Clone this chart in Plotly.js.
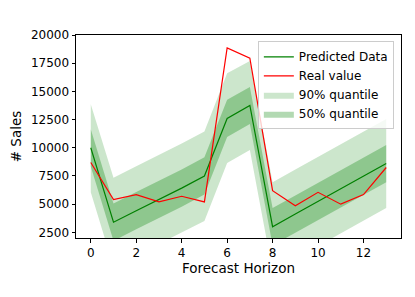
<!DOCTYPE html>
<html>
<head>
<meta charset="utf-8">
<script src="https://cdn.plot.ly/plotly-3.0.1.min.js"></script>
<style>html,body{margin:0;padding:0;background:#fff;}#chart{width:415px;height:297px;}</style>
</head>
<body>
<div id="chart"></div>
<script>
var horizon = [0,1,2,3,4,5,6,7,8,9,10,11,12,13];
var predicted = [10000,3400,4420,5420,6420,7500,12600,13750,3000,4120,5240,6360,7480,8600];
var realValue = [8700,5400,5850,5200,5700,5200,18850,17950,6200,4850,6050,5000,5850,8250];
var q90Lower = [6050,-550,470,1470,2470,3500,8650,9800,-950,170,1290,2410,3530,4650];
var q90Upper = [13850,7350,8370,9370,10370,11450,16600,17700,6950,8070,9190,10310,11430,12550];
var q50Lower = [8350,1750,2770,3770,4770,5850,10950,12100,1350,2470,3590,4710,5830,6950];
var q50Upper = [11650,5050,6070,7070,8070,9150,14250,15400,4650,5770,6890,8010,9130,10250];
var xTicks = [0,2,4,6,8,10,12];
var yTicks = [2500,5000,7500,10000,12500,15000,17500,20000];

var font = 'DejaVu Sans, sans-serif';
var traces = [
  {x: horizon, y: q90Lower, mode: 'lines', line: {width: 0}, showlegend: false, hoverinfo: 'skip', legendgroup: 'g3'},
  {x: horizon, y: q90Upper, mode: 'lines', line: {width: 0}, fill: 'tonexty', fillcolor: 'rgba(0,128,0,0.2)', name: '90% quantile', legendrank: 3, legendgroup: 'g3'},
  {x: horizon, y: q50Lower, mode: 'lines', line: {width: 0}, showlegend: false, hoverinfo: 'skip', legendgroup: 'g4'},
  {x: horizon, y: q50Upper, mode: 'lines', line: {width: 0}, fill: 'tonexty', fillcolor: 'rgba(0,128,0,0.3)', name: '50% quantile', legendrank: 4, legendgroup: 'g4'},
  {x: horizon, y: predicted, mode: 'lines', line: {color: 'green', width: 1.2}, name: 'Predicted Data', legendrank: 1, legendgroup: 'g1'},
  {x: horizon, y: realValue, mode: 'lines', line: {color: 'red', width: 1.2}, name: 'Real value', legendrank: 2, legendgroup: 'g2'}
];

var axisCommon = {
  showgrid: false, zeroline: false, showline: true, mirror: true,
  linecolor: '#000', linewidth: 1, ticks: 'outside', ticklen: 3.5, tickwidth: 1, tickcolor: '#000',
  tickfont: {family: font, size: 12, color: '#000'}
};

var layout = {
  width: 415, height: 297,
  margin: {l: 76, r: 14, t: 34.5, b: 59.4, pad: 0},
  paper_bgcolor: '#fff', plot_bgcolor: '#fff',
  font: {family: font, color: '#000'},
  xaxis: Object.assign({}, axisCommon, {
    range: [-0.65, 13.65], tickvals: xTicks, ticktext: xTicks.map(String),
    title: {text: 'Forecast Horizon', font: {family: font, size: 13.5, color: '#000'}, standoff: 4}
  }),
  yaxis: Object.assign({}, axisCommon, {
    range: [2000, 20000], tickvals: yTicks, ticktext: yTicks.map(String),
    title: {text: '# Sales', font: {family: font, size: 13.5, color: '#000'}, standoff: 6}
  }),
  legend: {
    x: 0.978, y: 0.969, xanchor: 'right', yanchor: 'top',
    bgcolor: 'rgba(255,255,255,0.8)', bordercolor: '#ccc', borderwidth: 1,
    font: {family: font, size: 12, color: '#000'},
    traceorder: 'grouped', tracegroupgap: 0, itemwidth: 30
  },
  showlegend: true
};

Plotly.newPlot('chart', traces, layout, {displayModeBar: false, staticPlot: true});
</script>
</body>
</html>
